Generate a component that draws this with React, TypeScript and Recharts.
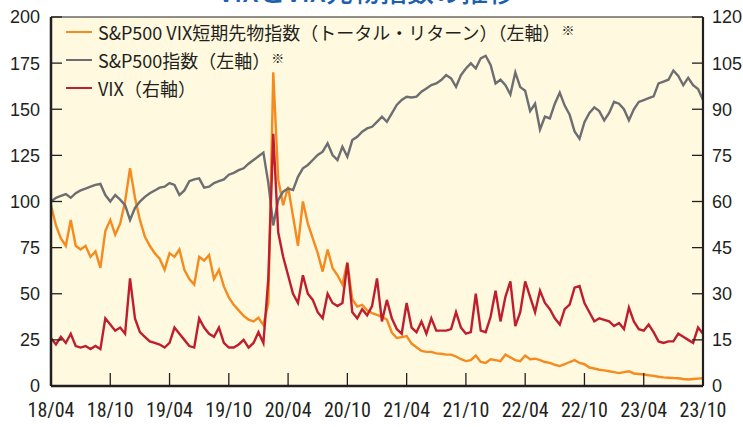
import { LineChart, Line, XAxis, YAxis, CartesianGrid, ReferenceLine, Legend } from 'recharts';

// half-month steps from 2018/04 to 2023/10
const tickMonths = [0, 6, 12, 18, 24, 30, 36, 42, 48, 54, 60, 66];
const tickLabels = ['18/04', '18/10', '19/04', '19/10', '20/04', '20/10', '21/04', '21/10', '22/04', '22/10', '23/04', '23/10'];
const leftTicks = [0, 25, 50, 75, 100, 125, 150, 175, 200];
const rightTicks = [0, 15, 30, 45, 60, 75, 90, 105, 120];

const vixFutures = [
  98, 87, 80, 76, 90, 76, 74, 76, 70, 73, 64, 84, 90, 82, 88, 100, 118, 102, 90, 81,
  76, 72, 69, 63, 72, 70, 74, 63, 58, 55, 70, 68, 71, 58, 63, 54, 48, 44, 41, 38,
  36, 35, 37, 33, 45, 170, 112, 98, 108, 92, 76, 100, 88, 80, 72, 62, 74, 64, 60, 55,
  67, 47, 43, 44, 41, 39.5, 38.5, 37.5, 36, 29, 26, 26.5, 27, 23, 21, 19, 18.5, 18.5, 17.7, 17.5,
  17, 17, 16, 14.5, 13.5, 14, 16.5, 13, 12.5, 14.5, 14, 13.5, 17, 15.5, 14, 13.5, 16.5, 14.5, 14.8, 14,
  13, 12.5, 11.5, 10.8, 11.8, 13, 14, 12.5, 11.8, 10, 9.5, 8.8, 8.5, 8, 7.5, 7, 7.5, 8, 6.8, 6.5,
  6.2, 5.8, 5.5, 5, 4.7, 4.5, 4.3, 4.2, 3.8, 3.5, 3.8, 4, 4.2,
];

const sp500 = [
  100, 102, 103, 104, 102, 104.5, 106, 107, 108, 109, 109.5, 103.5, 100, 103.5, 101, 98, 90, 96.5, 100, 102.5,
  104.5, 106, 107.5, 108, 110, 109, 103.5, 106, 111, 112, 112.5, 107.5, 108, 110, 111, 112, 114.5, 115.5, 117, 118,
  120.5, 122.5, 124.5, 126.5, 110, 87, 100.8, 105.3, 107, 106.2, 113.4, 118, 119.8, 122.5, 125.2, 127, 131.5, 125.2, 122.5, 129.7,
  124.3, 133.3, 135.1, 137.8, 139.6, 140.5, 143.2, 146, 143.2, 147.8, 152.3, 155, 156.8, 156.4, 156.8, 159.5, 161.3, 163.1, 164, 165.8,
  168.5, 166.7, 162.2, 168.5, 172.1, 174.9, 172.1, 177.6, 179, 174, 164, 166, 163, 158, 170, 162, 160, 149, 153, 139,
  146, 145, 153, 159, 152, 147, 138, 134, 143, 148, 151, 149, 144, 148, 154, 153, 150, 144, 150, 154,
  155, 156, 157, 164, 165, 166, 171, 168, 163, 167, 163, 161, 155,
];

const vix = [
  15.5, 13.5, 16, 14, 17, 13, 12.5, 13, 12, 13, 12, 22, 20, 18, 19, 17, 35, 22, 17.5, 16,
  14.5, 14, 13.5, 12.5, 14, 19, 17, 15, 13, 12.5, 22, 19, 17, 16, 19, 14, 12.5, 12.5, 13.5, 15,
  12.5, 14, 17.5, 14, 35, 82, 50, 42, 36, 30, 27, 36, 30, 28, 24, 22, 30, 27, 26, 27,
  40, 24, 22, 25, 23, 26, 35, 21, 28, 22, 18.5, 17, 27, 19, 17.5, 21, 17, 22, 18, 18,
  18, 18.5, 24, 19, 17, 17.5, 30, 18, 17.5, 22.5, 31, 21, 29, 34, 19.5, 24, 34, 29, 24, 31,
  27, 25, 22, 20, 25, 26.5, 32, 32.5, 27, 24, 21, 22, 21.5, 21, 19.5, 20.5, 18.5, 25.5, 21, 18.5,
  18, 20, 17.5, 14.5, 14, 14.5, 14.5, 17, 16, 15, 14, 19, 17,
];

const data = sp500.map((v, i) => ({ t: i / 2, sp500: v, futures: vixFutures[i], vix: vix[i] }));

const INK = '#231f20';
const ORANGE = '#f58a1f';
const GRAY = '#6d6e71';
const RED = '#be1e2d';
const NUM_FONT = '"Liberation Sans", Arial, sans-serif';
const DATE_FONT = '"Liberation Sans Narrow", "Roboto Condensed", "DejaVu Sans Condensed", "Liberation Sans", sans-serif';
const JP_FONT = '"Noto Sans CJK JP", "Noto Sans", sans-serif';

const legendItems = [
  { label: 'S&P500 VIX短期先物指数（トータル・リターン）（左軸）', note: true, color: ORANGE },
  { label: 'S&P500指数（左軸）', note: true, color: GRAY },
  { label: 'VIX（右軸）', note: false, color: RED },
];

function LeftTick(props: any) {
  const { x, y, payload } = props;
  return (
    <g>
      <line x1={x} x2={x + 11} y1={y} y2={y} stroke={INK} strokeWidth={1.3} />
      <text x={x - 11} y={y} dy="0.36em" textAnchor="end" fontSize={18} fill={INK} fontFamily={NUM_FONT}>
        {payload.value}
      </text>
    </g>
  );
}

function RightTick(props: any) {
  const { x, y, payload } = props;
  return (
    <g>
      <line x1={x - 11} x2={x} y1={y} y2={y} stroke={INK} strokeWidth={1.3} />
      <text x={x + 9} y={y} dy="0.36em" textAnchor="start" fontSize={18} fill={INK} fontFamily={NUM_FONT}>
        {payload.value}
      </text>
    </g>
  );
}

function BottomTick(props: any) {
  const { x, y, payload } = props;
  const label = tickLabels[tickMonths.indexOf(payload.value)];
  return (
    <g>
      <line x1={x} x2={x} y1={y} y2={y - 13} stroke={INK} strokeWidth={1.3} />
      <text x={x} y={y + 24} dy="0.36em" textAnchor="middle" fontSize={20} fill={INK} fontFamily={DATE_FONT}>
        {label}
      </text>
    </g>
  );
}

function LegendBox() {
  return (
    <div style={{ fontFamily: JP_FONT, color: INK }}>
      {legendItems.map((item) => (
        <div key={item.label} style={{ display: 'flex', alignItems: 'center', height: 28, whiteSpace: 'nowrap' }}>
          <svg width={32} height={28}>
            <line x1={0} x2={26} y1={14} y2={14} stroke={item.color} strokeWidth={2} />
          </svg>
          <span style={{ fontSize: 18 }}>{item.label}</span>
          {item.note && <span style={{ fontSize: 13, alignSelf: 'flex-start', marginTop: 2, marginLeft: 1 }}>※</span>}
        </div>
      ))}
    </div>
  );
}

export default function App() {
  return (
    <div style={{ position: 'absolute', left: 0, top: 0, width: 743, height: 427, overflow: 'hidden', background: '#fff' }}>
      <div
        style={{
          position: 'absolute',
          left: 218,
          top: -23,
          fontFamily: JP_FONT,
          fontSize: 27,
          lineHeight: '27px',
          fontWeight: 500,
          color: '#1d5fae',
          whiteSpace: 'nowrap',
        }}
      >
        VIXとVIX先物指数の推移
      </div>
      <div style={{ position: 'absolute', left: 0, top: 0 }}>
        <LineChart width={743} height={427} data={data} margin={{ top: 17, right: 0, bottom: 0, left: 0 }}>
          <CartesianGrid yAxisId="left" fill="#fff9df" horizontal={false} vertical={false} />
          <XAxis
            dataKey="t"
            type="number"
            domain={[0, 66]}
            ticks={tickMonths}
            interval={0}
            height={41}
            tickSize={0}
            tickMargin={0}
            tickLine={false}
            axisLine={{ stroke: INK, strokeWidth: 2.5 }}
            tick={<BottomTick />}
          />
          <YAxis
            yAxisId="left"
            domain={[0, 200]}
            ticks={leftTicks}
            interval={0}
            width={51}
            tickSize={0}
            tickMargin={0}
            tickLine={false}
            axisLine={{ stroke: INK, strokeWidth: 2.5 }}
            tick={<LeftTick />}
          />
          <YAxis
            yAxisId="right"
            orientation="right"
            domain={[0, 120]}
            ticks={rightTicks}
            interval={0}
            width={40}
            tickSize={0}
            tickMargin={0}
            tickLine={false}
            axisLine={{ stroke: INK, strokeWidth: 2.2 }}
            tick={<RightTick />}
          />
          <ReferenceLine yAxisId="left" y={200} stroke={INK} strokeWidth={1.2} />
          <Legend
            layout="horizontal"
            verticalAlign="middle"
            align="center"
            content={() => <LegendBox />}
            wrapperStyle={{ left: 66, top: 18, width: 600, height: 90 }}
          />
          <Line yAxisId="left" dataKey="futures" stroke={ORANGE} strokeWidth={2.4} dot={false} isAnimationActive={false} />
          <Line yAxisId="left" dataKey="sp500" stroke={GRAY} strokeWidth={2.4} dot={false} isAnimationActive={false} />
          <Line yAxisId="right" dataKey="vix" stroke={RED} strokeWidth={2.4} dot={false} isAnimationActive={false} />
        </LineChart>
      </div>
    </div>
  );
}
